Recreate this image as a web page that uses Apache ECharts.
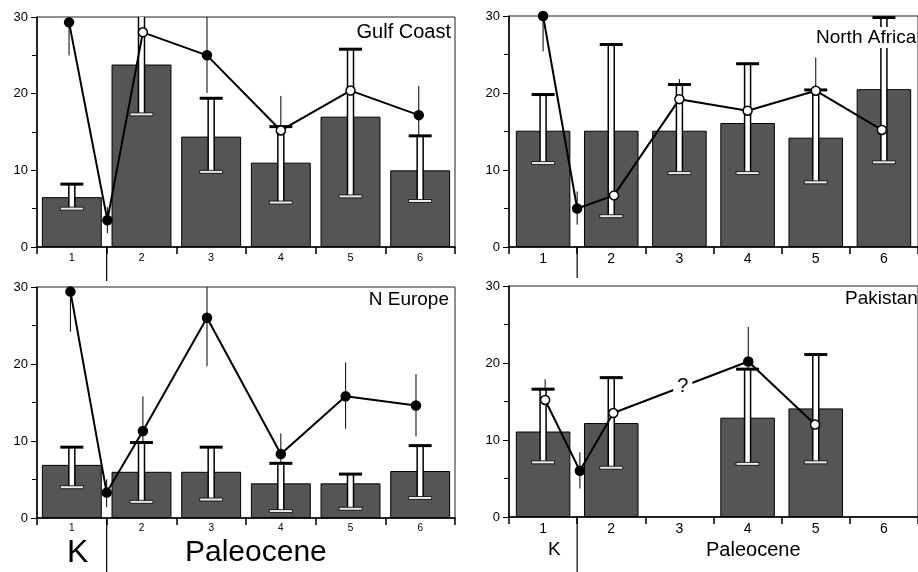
<!DOCTYPE html>
<html>
<head>
<meta charset="utf-8">
<script src="https://cdn.jsdelivr.net/npm/echarts@6/dist/echarts.min.js"></script>
<style>
html, body { margin: 0; padding: 0; background: #fff; }
#main { width: 918px; height: 572px; }
</style>
</head>
<body>
<div id="main"></div>
<script>
// stage categories (1 = K, 2-6 = Paleocene)
var categories = ['1', '2', '3', '4', '5', '6'];

// Gulf Coast
var gulfBars = [6.5, 23.8, 14.4, 11.0, 17.0, 10.0];
var gulfBarLow = [5.0, 17.3, 9.8, 5.8, 6.6, 6.0];
var gulfBarHigh = [8.2, 31.0, 19.4, 15.7, 25.8, 14.5];
var gulfLineX = [0.96, 1.51, 2.02, 2.94, 4.0, 5.0, 5.98];
var gulfLine = [29.3, 3.5, 28.0, 25.0, 15.2, 20.4, 17.2];
var gulfLineLow = [25.0, 1.8, 24.0, 20.1, 10.7, 16.5, 13.6];
var gulfLineHigh = [33.0, 5.2, 32.0, 31.0, 19.7, 24.5, 21.0];
var gulfFilled = [1, 1, 0, 1, 0, 0, 1];

// North Africa
var naBars = [15.1, 15.1, 15.1, 16.1, 14.2, 20.5];
var naBarLow = [10.9, 4.0, 9.6, 9.6, 8.4, 11.0];
var naBarHigh = [19.8, 26.3, 21.1, 23.8, 20.4, 29.8];
var naLineX = [1.0, 1.5, 2.04, 3.0, 4.0, 5.0, 5.97];
var naLine = [30.0, 5.0, 6.7, 19.2, 17.7, 20.3, 15.2];
var naLineLow = [25.4, 2.9, 5.0, 16.6, 15.0, 16.0, 12.0];
var naLineHigh = [34.0, 7.2, 8.4, 21.8, 20.4, 24.6, 18.4];
var naFilled = [1, 1, 0, 0, 0, 0, 0];

// N Europe
var neBars = [6.9, 6.0, 6.0, 4.5, 4.5, 6.1];
var neBarLow = [4.0, 2.1, 2.4, 0.9, 1.2, 2.6];
var neBarHigh = [9.2, 9.8, 9.2, 7.1, 5.7, 9.4];
var neLineX = [0.98, 1.5, 2.02, 2.94, 4.0, 4.93, 5.94];
var neLine = [29.4, 3.3, 11.3, 26.0, 8.3, 15.8, 14.6];
var neLineLow = [24.2, 1.4, 7.0, 19.7, 6.0, 11.6, 10.6];
var neLineHigh = [34.0, 5.0, 15.8, 31.0, 11.0, 20.2, 18.7];
var neFilled = [1, 1, 1, 1, 1, 1, 1];

// Pakistan (no data for 3 and 6)
var pkBars = [11.1, 12.2, null, 12.9, 14.1, null];
var pkBarLow = [7.1, 6.4, null, 6.9, 7.1, null];
var pkBarHigh = [16.6, 18.1, null, 19.2, 21.1, null];
var pkLineX = [1.03, 1.54, 2.03, 4.01, 4.99];
var pkLine = [15.2, 6.0, 13.5, 20.2, 12.0];
var pkLineLow = [12.5, 3.7, 11.0, 16.0, 10.0];
var pkLineHigh = [17.9, 8.4, 16.0, 24.7, 14.0];
var pkFilled = [0, 1, 0, 1, 0];
var pkGap = [[3.05, 16.9]];

var boundary = 1.5;
var FONT = '"Liberation Sans", Arial, sans-serif';

var chart = echarts.init(document.getElementById('main'));

var panels = [
    { name: 'Gulf Coast', bars: gulfBars, lo: gulfBarLow, hi: gulfBarHigh, lx: gulfLineX, ly: gulfLine, llo: gulfLineLow, lhi: gulfLineHigh, filled: gulfFilled,
      grid: { left: 37, top: 17, width: 418, height: 230 }, catFont: 11, barWidth: '86%', divLen: 34 },
    { name: 'North Africa', bars: naBars, lo: naBarLow, hi: naBarHigh, lx: naLineX, ly: naLine, llo: naLineLow, lhi: naLineHigh, filled: naFilled,
      grid: { left: 509, top: 16, width: 417, height: 231 }, catFont: 14, barWidth: '80%', divLen: 31 },
    { name: 'N Europe', bars: neBars, lo: neBarLow, hi: neBarHigh, lx: neLineX, ly: neLine, llo: neLineLow, lhi: neLineHigh, filled: neFilled,
      grid: { left: 37, top: 287, width: 418, height: 231 }, catFont: 10, barWidth: '86%', divLen: 56 },
    { name: 'Pakistan', bars: pkBars, lo: pkBarLow, hi: pkBarHigh, lx: pkLineX, ly: pkLine, llo: pkLineLow, lhi: pkLineHigh, filled: pkFilled,
      grid: { left: 509, top: 286, width: 417, height: 231 }, catFont: 14, barWidth: '80%', divLen: 56 }
];

function barErrRender(params, api) {
    var x = api.value(0);
    var top = api.coord([x, api.value(2)]);
    var bot = api.coord([x, api.value(1)]);
    var cx = top[0], capW = 23, stemW = 6;
    return {
        type: 'group',
        children: [
            { type: 'rect', shape: { x: cx - stemW / 2, y: top[1], width: stemW, height: bot[1] - top[1] },
              style: { fill: '#fff', stroke: '#000', lineWidth: 1.5 } },
            { type: 'rect', shape: { x: cx - capW / 2, y: top[1] - 1.5, width: capW, height: 3 },
              style: { fill: '#000' } },
            { type: 'rect', shape: { x: cx - capW / 2, y: bot[1] - 1.5, width: capW, height: 3 },
              style: { fill: '#e8e8e8', stroke: '#000', lineWidth: 0.8 } }
        ]
    };
}

function thinErrRender(params, api) {
    var a = api.coord([api.value(0), api.value(2)]);
    var b = api.coord([api.value(0), api.value(1)]);
    return { type: 'line', shape: { x1: a[0], y1: a[1], x2: b[0], y2: b[1] }, style: { stroke: '#000', lineWidth: 1 } };
}

function dividerRender(len) {
    return function (params, api) {
        var p = api.coord([api.value(0), 0]);
        return { type: 'line', shape: { x1: p[0], y1: p[1], x2: p[0], y2: p[1] + len }, style: { stroke: '#000', lineWidth: 1.2 } };
    };
}

function gapRender(params, api) {
    var p = api.coord([api.value(0), api.value(1)]);
    return {
        type: 'text', x: p[0], y: p[1],
        style: { text: '?', fontSize: 20, fontFamily: FONT, fill: '#000', align: 'center', verticalAlign: 'middle',
                 backgroundColor: '#fff', padding: [0, 4] }
    };
}

var grids = [], xAxes = [], yAxes = [], series = [];

panels.forEach(function (p, i) {
    grids.push(Object.assign({ show: true, borderColor: '#222', borderWidth: 1, backgroundColor: 'transparent' }, p.grid));
    xAxes.push({
        type: 'category', gridIndex: i, data: categories,
        axisLine: { lineStyle: { color: '#000', width: 1.5 } },
        axisTick: { show: true, interval: 0, length: 7, lineStyle: { color: '#000', width: 1.5 } },
        axisLabel: { color: '#000', fontSize: p.catFont, fontFamily: FONT, margin: 5, interval: 0 },
        splitLine: { show: false }
    });
    xAxes.push({ type: 'value', gridIndex: i, min: 0.5, max: 6.5, show: false });
    yAxes.push({
        type: 'value', gridIndex: i, min: 0, max: 30, interval: 10,
        axisLine: { show: true, lineStyle: { color: '#000', width: 1.5 } },
        axisTick: { show: true, length: 6, lineStyle: { color: '#000' } },
        minorTick: { show: true, splitNumber: 2, length: 5, lineStyle: { color: '#000' } },
        splitLine: { show: false },
        axisLabel: { color: '#000', fontSize: 13, fontFamily: FONT, margin: 9 }
    });
    var cx = 2 * i, vx = 2 * i + 1;
    series.push({
        type: 'bar', xAxisIndex: cx, yAxisIndex: i, data: p.bars, barWidth: p.barWidth, z: 1,
        itemStyle: { color: '#555', borderColor: '#000', borderWidth: 1 }
    });
    var errData = [];
    p.bars.forEach(function (v, k) { if (v != null) errData.push([k, p.lo[k], p.hi[k]]); });
    var thinData = p.lx.map(function (x, k) { return [x, p.llo[k], p.lhi[k]]; });
    series.push({ type: 'custom', xAxisIndex: vx, yAxisIndex: i, data: thinData, renderItem: thinErrRender, clip: true, z: 2 });
    series.push({ type: 'custom', xAxisIndex: cx, yAxisIndex: i, data: errData, renderItem: barErrRender, clip: true, z: 3 });
    series.push({
        type: 'line', xAxisIndex: vx, yAxisIndex: i, z: 4,
        data: p.lx.map(function (x, k) {
            return { value: [x, p.ly[k]], itemStyle: { color: p.filled[k] ? '#000' : '#fff' } };
        }),
        symbol: 'circle', symbolSize: 9, showSymbol: true,
        lineStyle: { color: '#000', width: 2 },
        itemStyle: { borderColor: '#000', borderWidth: 1.5 }
    });
    series.push({ type: 'custom', xAxisIndex: vx, yAxisIndex: i, data: [[boundary]], renderItem: dividerRender(p.divLen), clip: false, z: 5 });
});

// "?" where Pakistan has no stage 3 data
series.push({ type: 'custom', xAxisIndex: 7, yAxisIndex: 3, data: pkGap, renderItem: gapRender, z: 6 });

var textStyle = function (txt, size, bg) {
    var s = { text: txt, fontSize: size, fontFamily: FONT, fill: '#000' };
    if (bg) { s.backgroundColor = '#fff'; s.padding = [1, 0]; }
    return s;
};

chart.setOption({
    animation: false,
    backgroundColor: '#fff',
    grid: grids,
    xAxis: xAxes,
    yAxis: yAxes,
    series: series,
    graphic: [
        { type: 'text', right: 918 - 451, top: 22, z: 10, style: textStyle('Gulf Coast', 20) },
        { type: 'text', left: 816, top: 27, z: 10, style: textStyle('North Africa', 19, true) },
        { type: 'text', right: 918 - 449, top: 290, z: 10, style: textStyle('N Europe', 19) },
        { type: 'text', left: 845, top: 289, z: 10, style: textStyle('Pakistan', 19) },
        { type: 'text', left: 67, top: 537, style: textStyle('K', 32) },
        { type: 'text', left: 185, top: 538, style: textStyle('Paleocene', 30) },
        { type: 'text', left: 548, top: 540, style: textStyle('K', 19) },
        { type: 'text', left: 706, top: 540, style: textStyle('Paleocene', 20) }
    ]
});
</script>
</body>
</html>
